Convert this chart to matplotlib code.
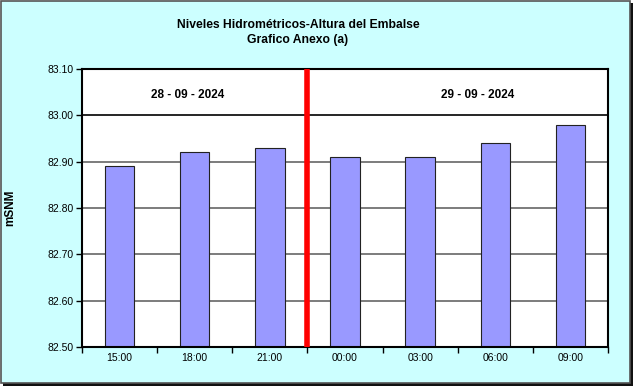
import matplotlib.pyplot as plt
import numpy as np
from matplotlib.patches import Rectangle

plt.rcParams['font.family'] = ['Liberation Sans', 'DejaVu Sans']

horas = ["15:00", "18:00", "21:00", "00:00", "03:00", "06:00", "09:00"]
niveles = [82.89, 82.92, 82.93, 82.91, 82.91, 82.94, 82.98]
fechas = ["28 - 09 - 2024", "29 - 09 - 2024"]
y_ticks = [82.50, 82.60, 82.70, 82.80, 82.90, 83.00, 83.10]

fig = plt.figure(figsize=(6.33, 3.86), dpi=100, facecolor="white")
# background with thin shadow frame
fig.patches.append(Rectangle((3 / 633, 0), 630 / 633, 383 / 386, transform=fig.transFigure,
                             facecolor="#111111", edgecolor="none", zorder=-2))
fig.patches.append(Rectangle((0.5 / 633, 3 / 386), 629 / 633, 382.5 / 386, transform=fig.transFigure,
                             facecolor="#CCFFFF", edgecolor="#555555", linewidth=1.2, zorder=-1))

ax = fig.add_axes([82 / 633, 1 - 347 / 386, 526 / 633, 278 / 386])
x = np.arange(len(horas))

# grid lines
for v in y_ticks[1:-1]:
    ax.axhline(v, color="black" if v == 83.00 else "#666666", linewidth=1.2, zorder=1)

ax.bar(x, niveles, width=0.39, color="#9999FF", edgecolor="#222222",
       linewidth=0.8, zorder=2)
ax.axvline(2.5, color="#FF0000", linewidth=4, zorder=3)

ax.set_xlim(-0.5, 6.5)
ax.set_ylim(82.50, 83.10)
ax.set_yticks(y_ticks)
ax.set_yticklabels([f"{v:.2f}" for v in y_ticks], fontsize=7.5)
ax.set_xticks(x)
ax.set_xticklabels(horas, fontsize=7.5)
ax.set_xticks(np.arange(-0.5, 7, 1), minor=True)
ax.tick_params(axis="x", which="major", length=0, pad=4)
ax.tick_params(axis="x", which="minor", length=4, direction="out", width=1)
ax.tick_params(axis="y", length=4, direction="out", width=1, pad=2)
for s in ax.spines.values():
    s.set_linewidth(1.5)

ax.text(0.91, 83.043, fechas[0], ha="center", va="center", fontsize=8.5, fontweight="bold")
ax.text(4.76, 83.043, fechas[1], ha="center", va="center", fontsize=8.5, fontweight="bold")

fig.text(10 / 633, 1 - 208 / 386, "mSNM", rotation=90, ha="center", va="center",
         fontsize=8.5, fontweight="bold")
fig.text(298 / 633, 1 - 25 / 386, "Niveles Hidrométricos-Altura del Embalse", ha="center",
         va="center", fontsize=8.7, fontweight="bold")
fig.text(298 / 633, 1 - 40 / 386, "Grafico Anexo (a)", ha="center", va="center",
         fontsize=8.7, fontweight="bold")

fig.savefig("out.png", dpi=100)
